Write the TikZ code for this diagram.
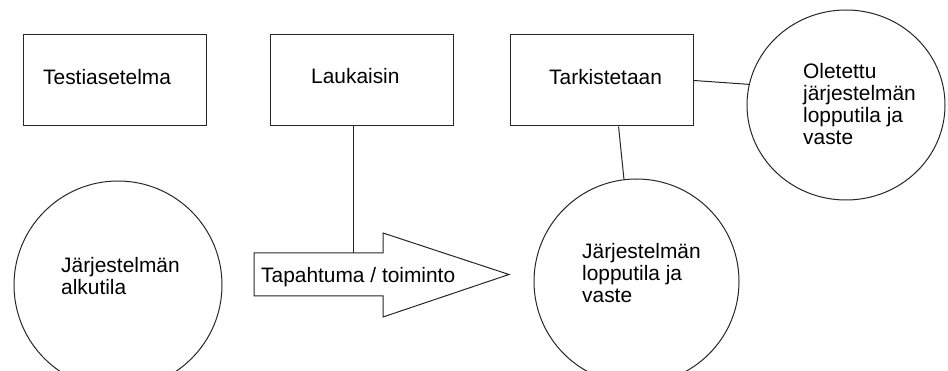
\documentclass[tikz,border=0pt]{standalone}
\usepackage{fontspec}
\setmainfont{Liberation Sans}
\usetikzlibrary{shapes.geometric,calc}

\tikzset{
  outline/.style={draw=black!85, line width=1pt},
  box/.style={outline, rectangle, minimum width=183pt, minimum height=91pt, inner sep=0pt},
  state/.style={outline, circle, inner sep=0pt},
  % multi-line labels are placed by the baseline of their last line
  label text/.style={inner sep=0pt, anchor=base west, align=left,
    font=\fontsize{20.9}{22}\selectfont, text=black},
  link/.style={draw=black!85, line width=1pt},
}

\begin{document}
\begin{tikzpicture}[x=1pt, y=-1pt]
  \useasboundingbox (0,0) rectangle (948,371);
  \clip (0,0) rectangle (948,371);

  % upper row: boxes
  \node[box] (setup)   at (114.5,80.5) {};
  \node[box] (trigger) at (361.5,80.5) {};
  \node[box] (check)   at (602,80.5)   {};

  % states
  \node[state, minimum size=208pt] (initial)  at (118,285)   {};
  \node[state, minimum size=205pt] (final)    at (636.5,281.5) {};
  \node[outline, ellipse, inner sep=0pt, minimum width=198pt, minimum height=190pt]
       (expected) at (846,105) {};

  % event arrow
  \draw[outline, line join=miter]
    (254,253) -- (383,253) -- (383,233) -- (509,274.5) -- (383,317) -- (383,296) -- (254,296) -- cycle;
  \coordinate (arrowtop) at (353,253);

  % texts
  \node[label text] (setupT)   at (43,85)   {Testiasetelma};
  \node[label text] (triggerT) at (311,84)  {Laukaisin};
  \node[label text] (checkT)   at (549,85)  {Tarkistetaan};
  \node[label text] (initialT) at (61,295)  {Järjestelmän\\alkutila};
  \node[label text] (finalT)   at (582,303) {Järjestelmän\\lopputila ja\\vaste};
  \node[label text] (expectedT) at (803,145) {Oletettu\\järjestelmän\\lopputila ja\\vaste};
  \node[label text] (eventT)   at (261,283) {Tapahtuma / toiminto};

  % connectors
  \draw[link] ($(setup.south)+(0.5,0)$) -- ($(setup.south)+(0.5,0)$ |- initial.north);
  \draw[link] (arrowtop |- trigger.south) -- (arrowtop);
  \draw[link] ($(check.south west)!0.59!(check.south east)$) -- (final.97);
  \draw[link] (check.east) -- (expected.168);
\end{tikzpicture}
\end{document}
